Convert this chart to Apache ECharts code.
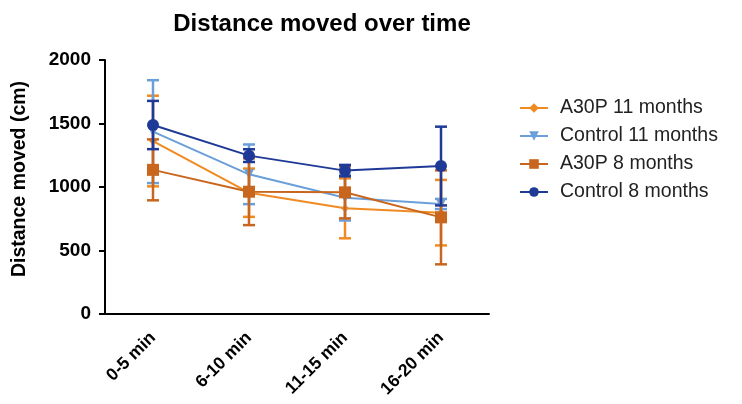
<!DOCTYPE html>
<html><head><meta charset="utf-8">
<script src="https://cdn.jsdelivr.net/npm/echarts@6/dist/echarts.min.js"></script>
<style>html,body{margin:0;padding:0;background:#fff}#c{width:742px;height:404px}</style>
</head><body><div id="c"></div>
<script>
var categories = ['0-5 min', '6-10 min', '11-15 min', '16-20 min'];
var seriesNames = ['A30P 11 months', 'Control 11 months', 'A30P 8 months', 'Control 8 months'];
var a30p11 = [1362, 955, 832, 798];
var a30p11Err = [357, 190, 236, 258];
var control11 = [1436, 1100, 916, 866];
var control11Err = [405, 235, 180, 40];
var a30p8 = [1135, 963, 958, 761];
var a30p8Err = [240, 263, 205, 370];
var control8 = [1488, 1247, 1129, 1165];
var control8Err = [190, 50, 45, 310];
var yTicks = [0, 500, 1000, 1500, 2000];

var colors = ['#F08A22', '#6B9FD9', '#C9661E', '#1E3A96'];
var symbols = ['diamond', 'triangle', 'rect', 'circle'];
var sizes = [8, 10, 12, 12];
var values = [a30p11, control11, a30p8, control8];
var errs = [a30p11Err, control11Err, a30p8Err, control8Err];
var FONT = 'Liberation Sans';

var chart = echarts.init(document.getElementById('c'));
var series = [];
values.forEach(function (vals, i) {
  var errData = vals.map(function (v, j) { return [j, v - errs[i][j], v + errs[i][j]]; });
  series.push({
    type: 'custom', name: seriesNames[i] + ' SEM', silent: true, z: 2 + i * 2,
    data: errData,
    renderItem: function (params, api) {
      var lo = api.coord([api.value(0), api.value(1)]);
      var hi = api.coord([api.value(0), api.value(2)]);
      var w = 6;
      var st = { stroke: colors[i], lineWidth: 2.5 };
      return { type: 'group', children: [
        { type: 'line', shape: { x1: hi[0], y1: hi[1], x2: lo[0], y2: lo[1] }, style: st },
        { type: 'line', shape: { x1: hi[0] - w, y1: hi[1], x2: hi[0] + w, y2: hi[1] }, style: st },
        { type: 'line', shape: { x1: lo[0] - w, y1: lo[1], x2: lo[0] + w, y2: lo[1] }, style: st }
      ]};
    }
  });
  series.push({
    type: 'line', name: seriesNames[i], data: vals, z: 3 + i * 2,
    symbol: symbols[i], symbolRotate: i === 1 ? 180 : 0,
    symbolSize: sizes[i], color: colors[i],
    lineStyle: { color: colors[i], width: 2 },
    itemStyle: { color: colors[i] }
  });
});

chart.setOption({
  animation: false,
  backgroundColor: '#fff',
  title: { text: 'Distance moved over time', left: 317, top: 7, textAlign: 'center',
    textStyle: { fontFamily: FONT, fontSize: 24, fontWeight: 'bold', color: '#000' } },
  grid: { left: 105, right: 253, top: 60, bottom: 90 },
  legend: {
    orient: 'vertical', left: 514, top: 93, itemGap: 8, itemWidth: 28, itemHeight: 12,
    data: seriesNames.map(function (n, i) {
      return { name: n, itemStyle: { color: colors[i] }, lineStyle: { color: colors[i], width: 2 } };
    }),
    textStyle: { fontFamily: FONT, fontSize: 19.5, color: '#222', padding: [0, 0, 0, 7] }
  },
  xAxis: {
    type: 'category', data: categories,
    axisLine: { lineStyle: { color: '#000', width: 2 } },
    axisTick: { alignWithLabel: true, length: 6, lineStyle: { color: '#000', width: 2 } },
    axisLabel: { rotate: 45, fontFamily: FONT, fontSize: 17.5, fontWeight: 'bold', color: '#000', margin: 21 }
  },
  yAxis: {
    type: 'value', min: yTicks[0], max: yTicks[yTicks.length - 1], interval: 500,
    name: 'Distance moved (cm)', nameLocation: 'middle', nameGap: 75, nameRotate: 90,
    nameTextStyle: { fontFamily: FONT, fontSize: 19.5, fontWeight: 'bold', color: '#000', padding: [0, 0, 0, 16] },
    axisLine: { show: true, lineStyle: { color: '#000', width: 2 } },
    axisTick: { show: true, length: 6, lineStyle: { color: '#000', width: 2 } },
    splitLine: { show: false },
    axisLabel: { formatter: function (v) { return String(v); }, fontFamily: FONT, fontSize: 19, fontWeight: 'bold', color: '#000', margin: 14 }
  },
  series: series
});
</script></body></html>
